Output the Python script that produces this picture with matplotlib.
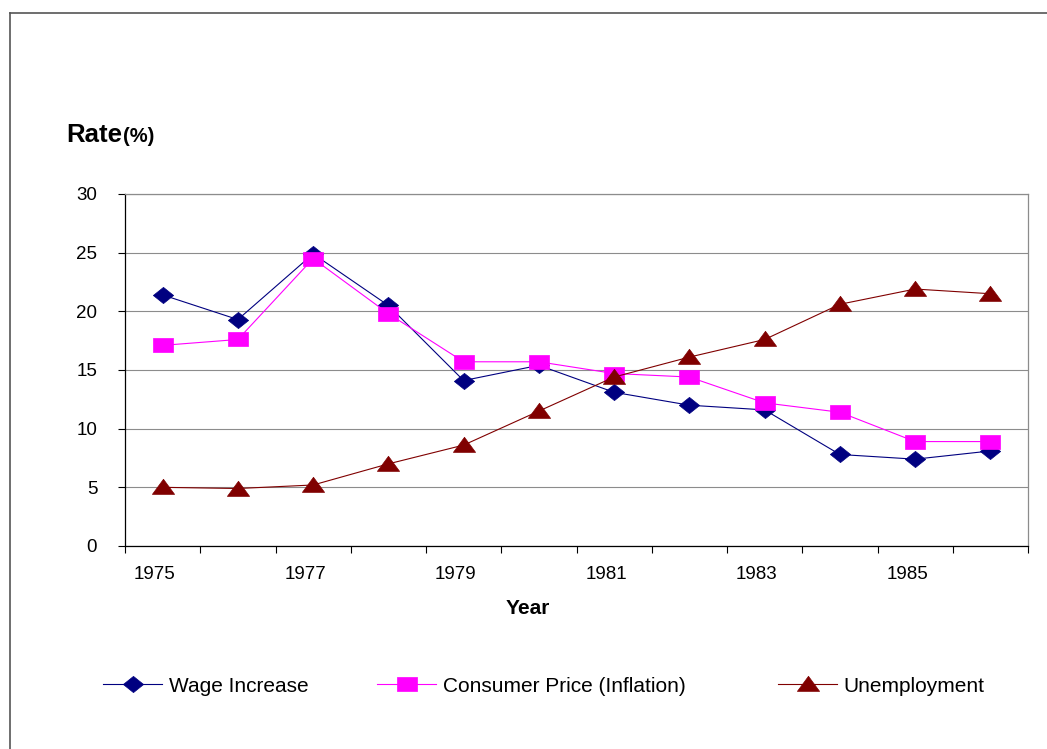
import matplotlib
matplotlib.use("Agg")
import matplotlib.pyplot as plt
import numpy as np
from matplotlib.lines import Line2D
from matplotlib.path import Path

years = [1975, 1976, 1977, 1978, 1979, 1980, 1981, 1982, 1983, 1984, 1985, 1986]
year_labels = ["1975", "", "1977", "", "1979", "", "1981", "", "1983", "", "1985", ""]
wage_increase = [21.4, 19.3, 24.9, 20.5, 14.1, 15.4, 13.1, 12.0, 11.6, 7.8, 7.4, 8.1]
consumer_price = [17.1, 17.6, 24.5, 19.8, 15.7, 15.7, 14.7, 14.4, 12.2, 11.4, 8.9, 8.9]
unemployment = [5.0, 4.9, 5.2, 7.0, 8.6, 11.5, 14.4, 16.1, 17.6, 20.6, 21.9, 21.5]
series_names = ["Wage Increase", "Consumer Price (Inflation)", "Unemployment"]
y_ticks = [0, 5, 10, 15, 20, 25, 30]

W, H = 1047, 749
plt.rcParams['font.family'] = ['Liberation Sans', 'DejaVu Sans']

fig = plt.figure(figsize=(W / 100, H / 100), dpi=100)
ax = fig.add_axes([125 / W, (H - 546) / H, 903 / W, 352 / H])

# custom markers (wider than tall, like the reference)
diamond = Path([(0, 0.8), (1.0, 0), (0, -0.8), (-1.0, 0), (0, 0.8)], closed=True)
square = Path([(-1, -0.74), (1, -0.74), (1, 0.74), (-1, 0.74), (-1, -0.74)], closed=True)
triangle = Path([(-1, -0.62), (1, -0.62), (0, 0.74), (-1, -0.62)], closed=True)

colors = ["#000080", "#FF00FF", "#800000"]
markers = [diamond, square, triangle]
msizes = [14.6, 13.9, 16.0]
data = [wage_increase, consumer_price, unemployment]

x = np.arange(len(years))
handles = []
for vals, c, m, ms, name in zip(data, colors, markers, msizes, series_names):
    h, = ax.plot(x, vals, color=c, lw=0.8, marker=m, markersize=ms,
                 markerfacecolor=c, markeredgecolor=c, markeredgewidth=0.5,
                 label=name, zorder=3, clip_on=False)
    handles.append(h)

ax.set_xlim(-0.5, len(years) - 0.5)
ax.set_ylim(0, 30)

# x axis: labels at categories (slightly shifted like Excel), ticks at boundaries
ax.set_xticks(x - 0.106)
ax.set_xticklabels(year_labels)
ax.set_xticks(np.arange(len(years) + 1) - 0.5, minor=True)
ax.tick_params(axis='x', which='major', length=0, pad=14.5, labelsize=13.5)
ax.tick_params(axis='x', which='minor', length=5, width=0.8, direction='out', color='black')

ax.set_yticks(y_ticks)
ax.tick_params(axis='y', which='major', length=5, width=0.8, direction='out',
               pad=15, labelsize=13.5, color='black')

ax.grid(axis='y', color='#8c8c8c', lw=0.8)
ax.set_axisbelow(True)
for s in ['left', 'bottom']:
    ax.spines[s].set_color('black')
    ax.spines[s].set_linewidth(0.9)
for s in ['top', 'right']:
    ax.spines[s].set_color('#8c8c8c')
    ax.spines[s].set_linewidth(0.9)

# axis titles
t1 = fig.text(66 / W, 1 - 142 / H, "Rate", fontsize=18.5, fontweight='bold',
              ha='left', va='baseline')
fig.canvas.draw()
bb = t1.get_window_extent()
fig.text(bb.x1 / W + 1 / W, 1 - 142 / H, "(%)", fontsize=14.5, fontweight='bold',
         ha='left', va='baseline')
fig.text(528 / W, 1 - 609 / H, "Year", fontsize=15, fontweight='bold',
         ha='center', va='center')

# legends
legend_x = [103, 377, 778]
for hnd, lx in zip(handles, legend_x):
    fig.legend(handles=[hnd], loc='center left',
               bbox_to_anchor=(lx / W, 1 - 686 / H), frameon=False,
               borderpad=0, borderaxespad=0, handlelength=2.85,
               handletextpad=0.3, fontsize=15, numpoints=1)

# outer frame (top and left visible)
fig.add_artist(Line2D([10 / W, 10 / W], [0, 1 - 13 / H], transform=fig.transFigure,
                      color='#555555', lw=1.2))
fig.add_artist(Line2D([10 / W, 1], [1 - 13 / H, 1 - 13 / H], transform=fig.transFigure,
                      color='#555555', lw=1.2))

fig.savefig("out.png", dpi=100)
